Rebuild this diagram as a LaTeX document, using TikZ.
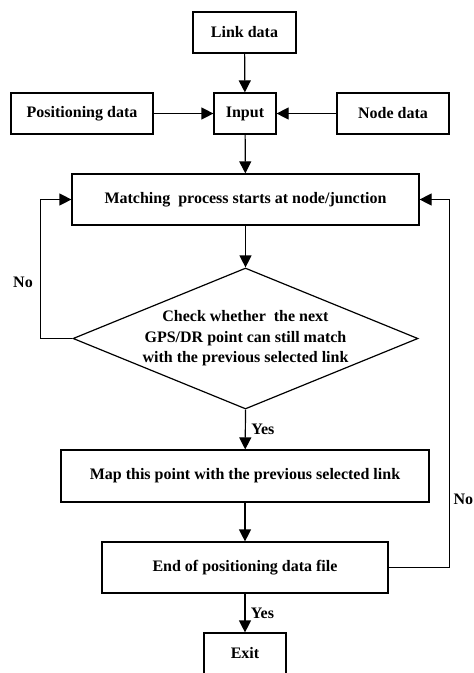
\documentclass[tikz,border=0pt]{standalone}
\usepackage{fontspec}
\setmainfont{Liberation Serif}
\usepackage{tikz}
\usetikzlibrary{positioning}
\usetikzlibrary{shapes.geometric}
\usetikzlibrary{arrows.meta}

\begin{document}
\begin{tikzpicture}[
    x=1pt, y=-1pt,
    line width=1.2pt,
    every node/.style={font=\bfseries\fontsize{16}{20.5}\selectfont},
    mybox/.style={draw,rectangle,inner sep=0pt,align=center},
    mydecision/.style={draw,diamond,inner sep=0pt,minimum width=345pt,minimum height=141pt},
    myarrow/.style={-{Triangle[length=12pt,width=12pt]}}
    ]
    \useasboundingbox (0,0) rectangle (474,673);

    \node[mybox,minimum width=103pt,minimum height=41pt] (link) at (244.5,32.5) {Link data};
    \node[mybox,minimum width=62pt,minimum height=41pt] (input) at (245,113.5) {Input};
    \node[mybox,minimum width=142pt,minimum height=41pt] (pos) at (82,113.5) {Positioning data};
    \node[mybox,minimum width=112pt,minimum height=41pt] (nodedata) at (393,113.5) {Node data};
    \node[mybox,minimum width=347pt,minimum height=51pt] (match) at (245.5,199.5) {Matching\ \ process starts at node/junction};
    \node[mydecision] (check) at (245.5,338.5) {};
    \node[align=center] (checktext) at (check) {Check whether\ \ the next\\GPS/DR point can still match\\with the previous selected link};
    \node[mybox,minimum width=368pt,minimum height=52pt] (map) at (245,476) {Map this point with the previous selected link};
    \node[mybox,minimum width=286pt,minimum height=51pt] (end) at (245,567.5) {End of positioning data file};
    \node[mybox,minimum width=82pt,minimum height=41pt] (exit) at (245,653.5) {Exit};

    \draw[myarrow] (link) -- (input);
    \draw[myarrow] (pos) -- (input);
    \draw[myarrow] (nodedata) -- (input);
    \draw[myarrow] (input) -- (match);
    \draw[myarrow] (match) -- (check.north);
    \draw[myarrow] (check.west) -- ++(-32,0) |- (match.west);
    \draw[myarrow] (check.south) -- node[right=2pt,pos=0.5] (yes1) {Yes} (map);
    \draw[myarrow] (map) -- (end);
    \draw[myarrow] (end.east) -- ++(61,0) |- (match.east);
    \draw[myarrow] (end) -- node[right=2pt] (yes2) {Yes} (exit);

    \node (no1) at (23,282) {No};
    \node[anchor=west,inner sep=1pt] (no2) at (452,499) {No};

    \end{tikzpicture}
\end{document}
